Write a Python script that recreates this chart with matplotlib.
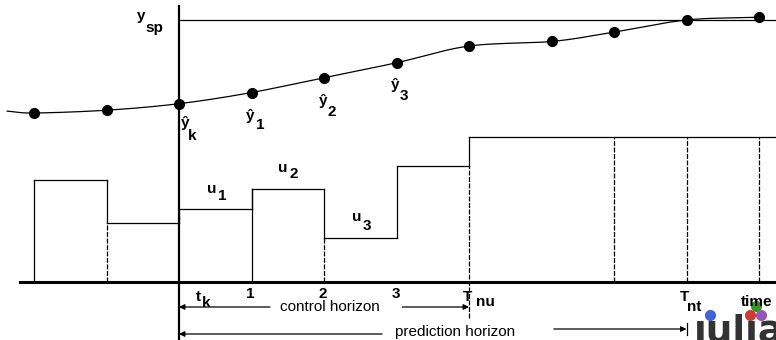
import numpy as np
import matplotlib
matplotlib.use("Agg")
import matplotlib.pyplot as plt
from matplotlib.transforms import blended_transform_factory

# ---------------- data ----------------
# predicted / past output samples (time in sample steps, k = 0 is now)
t_out = [-2, -1, 0, 1, 2, 3, 4, 5.15, 6, 7, 8]
y_out = [0.00, 0.03, 0.10, 0.22, 0.38, 0.54, 0.72, 0.77, 0.87, 1.00, 1.03]
curve_start = (-2.37, 0.02)
y_sp = 1.0

# piecewise constant input moves
t_in = [-2, -1, 0, 1, 2, 3, 4]
u_in = [1.02, 0.59, 0.73, 0.93, 0.44, 1.16, 1.45]
future_grid = [6, 7, 8]

step_labels = ["1", "2", "3"]
step_label_t = [1, 2, 3]
T_nu = 4
T_nt = 7

# ---------------- figure ----------------
W, H = 776, 340
fig = plt.figure(figsize=(W / 100, H / 100), dpi=100)
px0, dpx = 179.0, 72.5           # pixel of t=0, pixels per step
xlim = (-px0 / dpx, (W - px0) / dpx)

# input axes: py = 282 - 100*u
ax_u = fig.add_axes([0, 0, 1, 1])
ax_u.set_xlim(*xlim)
ax_u.set_ylim((282 - H) / 100.0, 282 / 100.0)
ax_u.axis("off")
# output axes: py = 113 - 93*y
ax_y = fig.add_axes([0, 0, 1, 1], sharex=ax_u)
ax_y.set_ylim((113 - H) / 93.0, 113 / 93.0)
ax_y.axis("off")
ax_y.patch.set_alpha(0)
# pixel axes for text
ax_p = fig.add_axes([0, 0, 1, 1])
ax_p.set_xlim(0, W)
ax_p.set_ylim(H, 0)
ax_p.axis("off")
ax_p.patch.set_alpha(0)

LW = 0.9
DASH = (0, (4, 1.2))

# ---- output curve (Catmull-Rom through samples) ----
cx = [curve_start[0]] + t_out
cy = [curve_start[1]] + y_out
P = np.column_stack([cx, cy])
Pe = np.vstack([P[0] - (P[1] - P[0]), P, P[-1] + (P[-1] - P[-2])])
xs, ys = [], []
for i in range(1, len(Pe) - 2):
    p0, p1, p2, p3 = Pe[i - 1], Pe[i], Pe[i + 1], Pe[i + 2]
    s = np.linspace(0, 1, 30)[:, None]
    seg = 0.5 * ((2 * p1) + (-p0 + p2) * s + (2 * p0 - 5 * p1 + 4 * p2 - p3) * s ** 2
                 + (-p0 + 3 * p1 - 3 * p2 + p3) * s ** 3)
    xs.extend(seg[:, 0]); ys.extend(seg[:, 1])
ax_y.plot(xs, ys, color="black", lw=LW)
ax_y.plot(t_out, y_out, "o", color="black", ms=7)

# setpoint line
ax_y.plot([0, xlim[1]], [y_sp, y_sp], color="black", lw=LW)

# vertical axis at t = 0
ax_p.plot([px0, px0], [6, H], color="black", lw=1.6)

# baseline
ax_u.plot([(20 - px0) / dpx, xlim[1]], [0, 0], color="black", lw=2.2)

# ---- input steps ----
edges = t_in + [xlim[1]]
for i, u in enumerate(u_in):
    ax_u.plot([edges[i], edges[i + 1]], [u, u], color="black", lw=LW)
# left edge of first block
ax_u.plot([t_in[0], t_in[0]], [0, u_in[0]], color="black", lw=LW)
for i in range(1, len(t_in)):
    t = t_in[i]
    a, b = u_in[i - 1], u_in[i]
    ax_u.plot([t, t], [a, b], color="black", lw=LW)
    lo = min(a, b)
    if t == 0 or t == 3:
        continue
    if t == 1:
        ax_u.plot([t, t], [0, max(a, b)], color="black", lw=LW)
    elif t == T_nu:
        ax_u.plot([t, t], [-0.36, lo], color="black", lw=LW, linestyle=DASH)
    else:
        ax_u.plot([t, t], [0, lo], color="black", lw=LW, linestyle=DASH)
for t in future_grid:
    ax_u.plot([t, t], [0, u_in[-1]], color="black", lw=LW, linestyle=DASH)

# ---- horizons ----
bt = blended_transform_factory(ax_u.transData, ax_p.transData)
ap = dict(arrowstyle="-|>", lw=LW, color="black", mutation_scale=8,
          shrinkA=0, shrinkB=0)
ax_p.annotate("", xy=(0, 307), xytext=(1.255, 307), xycoords=bt, textcoords=bt, arrowprops=ap)
ax_p.annotate("", xy=(T_nu, 307), xytext=(3.08, 307), xycoords=bt, textcoords=bt, arrowprops=ap)
ax_p.annotate("", xy=(0, 334), xytext=(2.8, 334), xycoords=bt, textcoords=bt, arrowprops=ap)
ax_p.annotate("", xy=(T_nt, 329), xytext=(5.17, 329), xycoords=bt, textcoords=bt, arrowprops=ap)
ax_p.plot([px0 + dpx * T_nt] * 2, [323, 335], color="black", lw=LW)

FONT = ["Liberation Sans", "DejaVu Sans"]
ax_p.text(330, 307, "control horizon", fontsize=11, family=FONT, ha="center", va="center")
ax_p.text(455, 332, "prediction horizon", fontsize=11, family=FONT, ha="center", va="center")

# ---- labels ----
def lab(x, y, base, sub, dx, dy, size=11):
    ax_p.text(x, y, base, fontsize=size, family=FONT, weight="bold", ha="left", va="baseline")
    if sub:
        ax_p.text(x + dx, y + dy, sub, fontsize=size, family=FONT, weight="bold",
                  ha="left", va="baseline")

lab(137, 20, "y", "sp", 8, 12)
lab(181, 127, "ŷ", "k", 7, 13)
lab(246, 120, "ŷ", "1", 10, 9)
lab(319, 105, "ŷ", "2", 9, 11)
lab(391, 89, "ŷ", "3", 9, 11)
lab(207, 193, "u", "1", 11, 7)
lab(278, 172, "u", "2", 12, 6)
lab(352, 221, "u", "3", 11, 9)
lab(196, 301, "t", "k", 6, 6)
for s, t in zip(step_labels, step_label_t):
    ax_p.text(px0 + dpx * t - 1, 298, s, fontsize=11, family=FONT, weight="bold",
              ha="center", va="baseline")
lab(463, 301, "T", "nu", 13, 5)
lab(680, 301, "T", "nt", 7, 10)

# julia logo
ax_p.text(738, 314, "ȷulıa", fontsize=27, family=["DejaVu Sans"], weight="bold",
          color="#333333", ha="center", va="top")
for (x, y, c) in [(710, 315, "#4063D8"), (750, 315, "#CB3C33"),
                  (756, 306, "#389826"), (761, 315, "#9558B2")]:
    ax_p.plot(x, y, "o", ms=7, color=c)
ax_p.text(741, 306, "time", fontsize=11, family=FONT, weight="bold", ha="left", va="baseline")

fig.savefig("out.png", dpi=100)
